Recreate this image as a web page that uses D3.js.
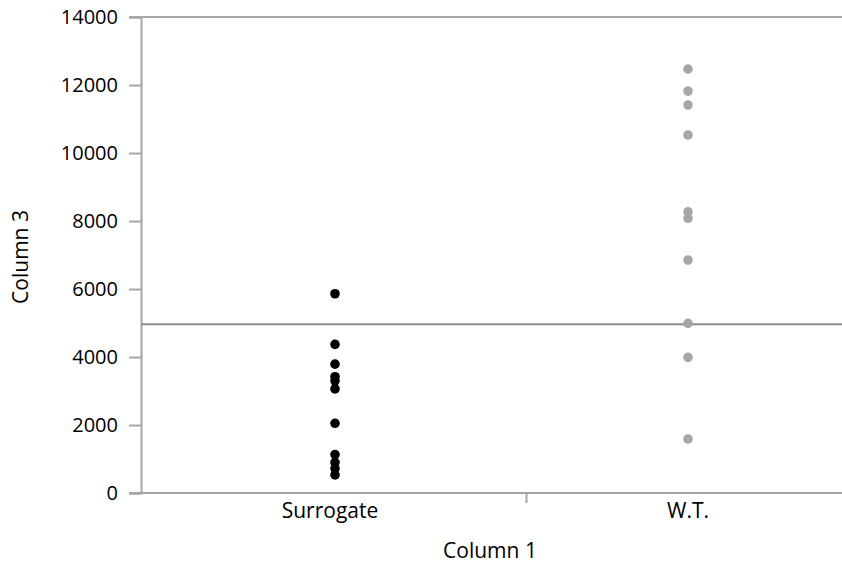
<!DOCTYPE html>
<html>
<head>
<meta charset="utf-8">
<script src="https://cdn.jsdelivr.net/npm/d3@7"></script>
<style>
  html, body { margin: 0; padding: 0; background: #fff; }
  svg { display: block; }
  text { font-family: "Open Sans", "Noto Sans", sans-serif; fill: #000; }
</style>
</head>
<body>
<svg id="chart" width="842" height="567"></svg>
<script>
const categories = ["Surrogate", "W.T."];
const surrogateValues = [5860, 4370, 3790, 3420, 3300, 3060, 2050, 1130, 900, 720, 530];
const wtValues = [12470, 11820, 11410, 10530, 8270, 8080, 6850, 4990, 3990, 1590];
const yTicks = [0, 2000, 4000, 6000, 8000, 10000, 12000, 14000];
const thresholdValue = 4960;
const xTitle = "Column 1";
const yTitle = "Column 3";

(function () {
const svg = d3.select("#chart");
const plotLeft = 141, plotRight = 914, plotTop = 17, plotBottom = 493;

const y = d3.scaleLinear().domain([0, 14000]).range([plotBottom, plotTop]);
const xBand = d3.scaleBand().domain(categories).range([plotLeft, plotRight]).paddingInner(0).paddingOuter(0);
const xPos = d3.scalePoint().domain(categories).range([335, 688]);

const axisColor = "#a6a6a6";

// top gridline (max)
svg.append("line").attr("x1", 129).attr("x2", 842)
  .attr("y1", y(14000)).attr("y2", y(14000))
  .attr("stroke", axisColor).attr("stroke-width", 2);

// Y axis
const yAxis = svg.append("g").attr("transform", `translate(${plotLeft},0)`)
  .call(d3.axisLeft(y).tickValues(yTicks).tickSize(12).tickPadding(11).tickFormat(d3.format("d")));
yAxis.select(".domain").attr("stroke", axisColor).attr("stroke-width", 2);
yAxis.selectAll(".tick line").attr("stroke", axisColor).attr("stroke-width", 2);
yAxis.selectAll(".tick text").style("font-size", "20px").style("font-family", "'Open Sans', sans-serif").attr("fill", "#000");

// X axis line
svg.append("line").attr("x1", 129).attr("x2", 842)
  .attr("y1", plotBottom).attr("y2", plotBottom)
  .attr("stroke", axisColor).attr("stroke-width", 2);
// category divider tick
const divX = plotLeft + xBand.step() - 1;
svg.append("line").attr("x1", divX).attr("x2", divX)
  .attr("y1", plotBottom).attr("y2", plotBottom + 10)
  .attr("stroke", axisColor).attr("stroke-width", 2);

// category labels
svg.selectAll(".cat").data(categories).enter().append("text")
  .attr("class", "cat")
  .attr("x", (d, i) => i === 0 ? xPos(d) - 5 : xPos(d))
  .attr("y", 518)
  .attr("text-anchor", "middle")
  .style("font-size", "21px")
  .text(d => d);

// threshold line
svg.append("line").attr("x1", plotLeft).attr("x2", 842)
  .attr("y1", y(thresholdValue)).attr("y2", y(thresholdValue))
  .attr("stroke", "#8c8c8c").attr("stroke-width", 2);

// points
svg.selectAll(".sur").data(surrogateValues).enter().append("circle")
  .attr("class", "sur")
  .attr("cx", xPos("Surrogate")).attr("cy", d => y(d)).attr("r", 4.8)
  .attr("fill", "#000");
svg.selectAll(".wt").data(wtValues).enter().append("circle")
  .attr("class", "wt")
  .attr("cx", xPos("W.T.")).attr("cy", d => y(d)).attr("r", 4.8)
  .attr("fill", "#a6a6a6");

// axis titles
svg.append("text").attr("x", 490).attr("y", 558).attr("text-anchor", "middle")
  .style("font-size", "21px").text(xTitle);
svg.append("text").attr("transform", "translate(28,257) rotate(-90)")
  .attr("text-anchor", "middle").style("font-size", "21px").text(yTitle);
})();
</script>
</body>
</html>
